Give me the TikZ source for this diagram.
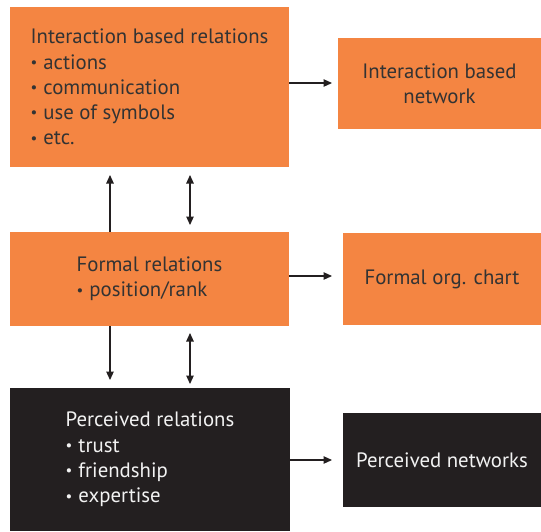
\documentclass[tikz,border=0pt]{standalone}
\usepackage{fontspec}
\setmainfont{PT Sans}
\usetikzlibrary{arrows.meta}
\definecolor{orangebox}{HTML}{F48542}
\definecolor{darkbox}{HTML}{231F20}
\definecolor{darktext}{HTML}{333333}
\definecolor{lighttext}{HTML}{F2F2F2}
\newcommand{\bul}{{\fontsize{15}{15}\selectfont\raisebox{1.5pt}{•}}\hspace{6pt}}
\tikzset{
  x=1pt, y=-1pt,
  obox/.style={rectangle, fill=orangebox, draw=none, text=darktext, inner sep=0pt,
    font=\fontsize{20.8}{25.2}\selectfont},
  bbox/.style={rectangle, fill=darkbox, draw=none, text=lighttext, inner sep=0pt,
    font=\fontsize{20.8}{25.2}\selectfont},
  conn/.style={line width=1.1pt, draw=darkbox, -{Triangle[length=8.5pt,width=7.5pt]}},
  bconn/.style={line width=1.1pt, draw=darkbox, {Triangle[length=8.5pt,width=7.5pt]}-{Triangle[length=8.5pt,width=7.5pt]}},
}
\begin{document}
\begin{tikzpicture}
\useasboundingbox[fill=white] (0,0) rectangle (541,531);
% left column
\node[obox, minimum width=279pt, minimum height=160pt, align=left] (A) at (149.5,87)
  {Interaction based relations\\ \bul actions\\ \bul communication\\ \bul use of symbols\\ \bul etc.};
\node[obox, minimum width=279pt, minimum height=94pt, align=left] (C) at (149.5,279)
  {Formal relations\\ \bul position/rank};
\node[bbox, minimum width=280pt, minimum height=143pt, align=left] (E) at (150,459.5)
  {Perceived relations\\ \bul trust\\ \bul friendship\\ \bul expertise};
% right column
\node[obox, minimum width=203pt, minimum height=91pt, align=center] (B) at (439.5,83.5)
  {Interaction based\\ network};
\node[obox, minimum width=198pt, minimum height=92pt, align=center] (D) at (442,279)
  {Formal org. chart};
\node[bbox, minimum width=198pt, minimum height=94pt, align=center] (F) at (442,460)
  {Perceived networks};
% free ends
\coordinate (a1) at (110,175);
\coordinate (b1t) at (190,175);
\coordinate (b1b) at (190,225);
\coordinate (a2) at (110,380);
\coordinate (b2t) at (190,333);
\coordinate (b2b) at (190,384);
\coordinate (h1) at (332,83);
\coordinate (h2) at (332,276);
\coordinate (h3) at (332,460);
% vertical connectors
\draw[conn] (C.north -| a1) -- (a1);
\draw[bconn] (b1b) -- (b1t);
\draw[conn] (C.south -| a2) -- (a2);
\draw[bconn] (b2t) -- (b2b);
% horizontal connectors
\draw[conn] (A.east |- h1) -- (h1);
\draw[conn] (C.east |- h2) -- (h2);
\draw[conn] (E.east |- h3) -- (h3);
\end{tikzpicture}
\end{document}
